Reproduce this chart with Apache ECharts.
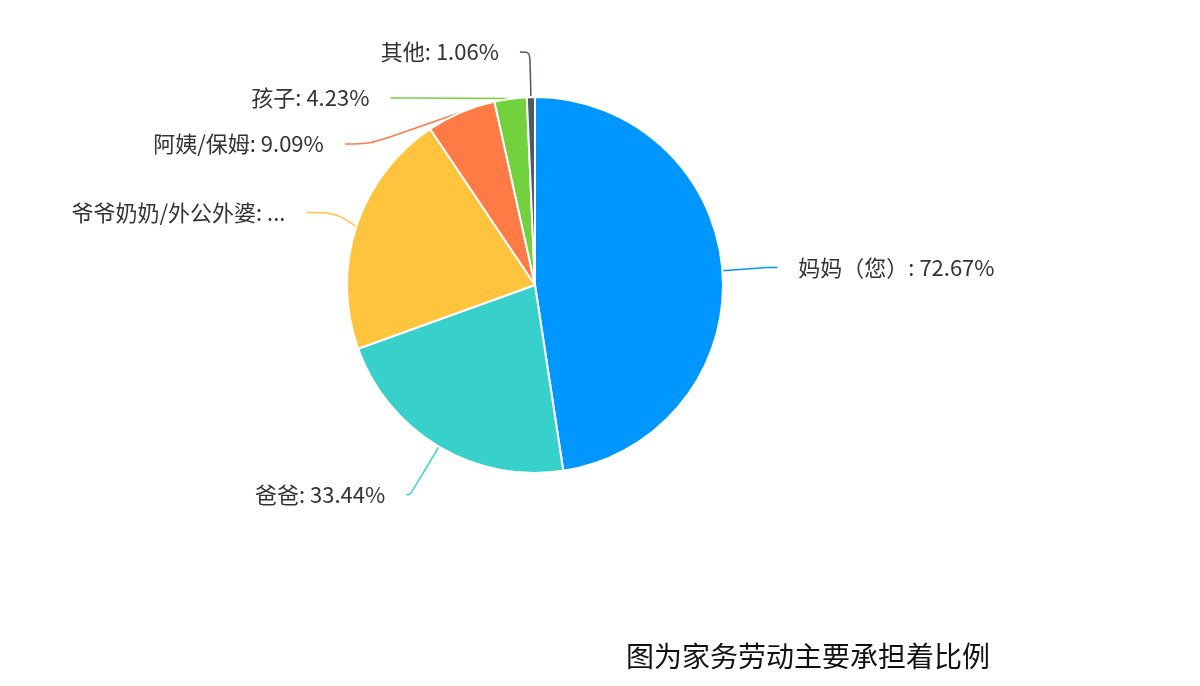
<!DOCTYPE html>
<html>
<head>
<meta charset="utf-8">
<script src="https://cdn.jsdelivr.net/npm/echarts@6/dist/echarts.min.js"></script>
<style>
html,body{margin:0;padding:0;background:#fff;}
#main{width:1200px;height:686px;}
</style>
</head>
<body>
<div id="main"></div>
<script>
const categories = ['妈妈（您）', '爸爸', '爷爷奶奶/外公外婆', '阿姨/保姆', '孩子', '其他'];
const values = [72.67, 33.44, 32.20, 9.09, 4.23, 1.06];
const colors = ['#0096ff', '#37d0cb', '#ffc43d', '#ff7a45', '#73d13d', '#4c5a68'];
const caption = '图为家务劳动主要承担着比例';

const chart = echarts.init(document.getElementById('main'));
const data = categories.map((name, i) => {
  const d = { name: name, value: values[i], itemStyle: { color: colors[i] } };
  if (i === 1) d.labelLine = { length: 56, length2: 4 };
  if (i === 2) {
    d.label = { width: 216, overflow: 'truncate', ellipsis: '...' };
    d.labelLine = { length2: 28 };
  }
  if (i === 3 || i === 4) d.labelLine = { length2: 25 };
  return d;
});
chart.setOption({
  animation: false,
  title: {
    text: caption,
    left: 621,
    top: 637,
    textStyle: { fontSize: 28, fontWeight: 'normal', color: '#111', fontFamily: 'Noto Sans CJK SC' }
  },
  series: [{
    type: 'pie',
    center: [535, 285],
    radius: [0, 188],
    startAngle: 90,
    clockwise: true,
    itemStyle: { borderColor: '#fff', borderWidth: 2 },
    label: {
      formatter: '{b}: {c}%',
      fontSize: 22,
      lineHeight: 44,
      color: '#333',
      fontFamily: 'Noto Sans CJK SC',
      distanceToLabelLine: 21
    },
    labelLine: { length: 45, length2: 10, smooth: 0.3, lineStyle: { width: 1.5 } },
    data: data
  }]
});
</script>
</body>
</html>
